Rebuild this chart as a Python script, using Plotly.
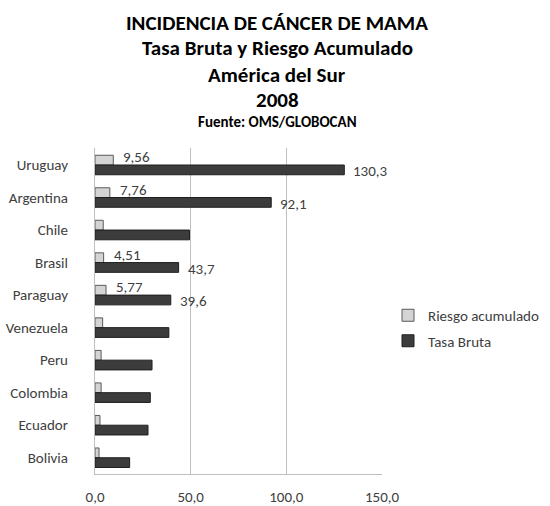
import plotly.graph_objects as go

paises = ["Uruguay", "Argentina", "Chile", "Brasil", "Paraguay",
          "Venezuela", "Peru", "Colombia", "Ecuador", "Bolivia"]
tasa_bruta = [130.3, 92.1, 49.4, 43.7, 39.6, 38.6, 29.8, 28.9, 27.7, 18.1]
riesgo_acumulado = [9.56, 7.76, 4.3, 4.51, 5.77, 4.0, 3.2, 3.2, 2.6, 2.1]
con_etiqueta = [True, True, False, True, True, False, False, False, False, False]

titulo = ["INCIDENCIA DE CÁNCER DE MAMA", "Tasa Bruta y Riesgo Acumulado",
          "América del Sur", "2008"]
fuente = "Fuente: OMS/GLOBOCAN"
x_ticks = [0, 50, 100, 150]

FONT = "Carlito, Calibri, Lato, sans-serif"
W, H = 550, 506
# plot area in pixels: x 95..382, y 148..474
L, R = 95, W - 382
T, B = 148, H - 474
PW, PH = W - L - R, H - T - B


def fmt(v, d):
    return f"{v:.{d}f}".replace(".", ",")


def px(sx):
    return (sx - L) / PW


def py(sy):
    return (H - B - sy) / PH


fig = go.Figure()
fig.add_trace(go.Bar(
    y=paises, x=riesgo_acumulado, orientation="h", name="Riesgo acumulado",
    marker=dict(color="#d4d4d4", line=dict(color="#5a5a5a", width=1)),
    legendgroup="a",
))
fig.add_trace(go.Bar(
    y=paises, x=tasa_bruta, orientation="h", name="Tasa Bruta",
    marker=dict(color="#3c3c3c", line=dict(color="#1e1e1e", width=1)),
    legendgroup="b",
))

cx = px(277)
anns = []
ys = [23, 48, 75, 100]
for t, yy in zip(titulo, ys):
    anns.append(dict(text=f"<b>{t}</b>", x=cx, xref="paper", y=py(yy), yref="paper",
                     showarrow=False, xanchor="center", yanchor="middle",
                     font=dict(family=FONT, size=21, color="#000000")))
anns.append(dict(text=f"<b>{fuente}</b>", x=cx, xref="paper", y=py(122), yref="paper",
                 showarrow=False, xanchor="center", yanchor="middle",
                 font=dict(family=FONT, size=15, color="#000000")))

# data labels
for p, r, t, s in zip(paises, riesgo_acumulado, tasa_bruta, con_etiqueta):
    if not s:
        continue
    anns.append(dict(text=fmt(r, 2), x=r, xref="x", y=p, yref="y", showarrow=False,
                     xanchor="left", yanchor="middle", xshift=8, yshift=8,
                     font=dict(family=FONT, size=15, color="#404040")))
    anns.append(dict(text=fmt(t, 1), x=t, xref="x", y=p, yref="y", showarrow=False,
                     xanchor="left", yanchor="middle", xshift=7, yshift=-6,
                     font=dict(family=FONT, size=15, color="#404040")))

fig.update_layout(
    width=W, height=H,
    margin=dict(l=L, r=R, t=T, b=B, autoexpand=False),
    paper_bgcolor="white", plot_bgcolor="white",
    barmode="group", bargap=0.4, bargroupgap=0.0,
    separators=",.",
    annotations=anns,
    font=dict(family=FONT, size=15, color="#404040"),
    legend=dict(x=px(388), xanchor="left", y=py(328), yanchor="middle",
                traceorder="grouped", tracegroupgap=3,
                font=dict(family=FONT, size=15, color="#404040"),
                bgcolor="rgba(0,0,0,0)"),
    xaxis=dict(range=[0, 150], tickvals=x_ticks, tickformat=".1f",
               showgrid=True, gridcolor="#bfbfbf", gridwidth=1,
               showline=True, linecolor="#bfbfbf", zeroline=False,
               ticks="", ticklabelstandoff=9, automargin=False,
               tickfont=dict(family=FONT, size=15, color="#404040"),
               fixedrange=True),
    yaxis=dict(categoryorder="array", categoryarray=paises, autorange="reversed",
               showline=True, linecolor="#bfbfbf", showgrid=False,
               ticks="", ticklabelstandoff=23, automargin=False,
               tickfont=dict(family=FONT, size=15, color="#404040"),
               fixedrange=True),
)

fig.write_html(
    "out.html",
    config={"displayModeBar": False},
    post_script="document.body.style.margin='0';document.body.style.overflow='hidden';",
)
